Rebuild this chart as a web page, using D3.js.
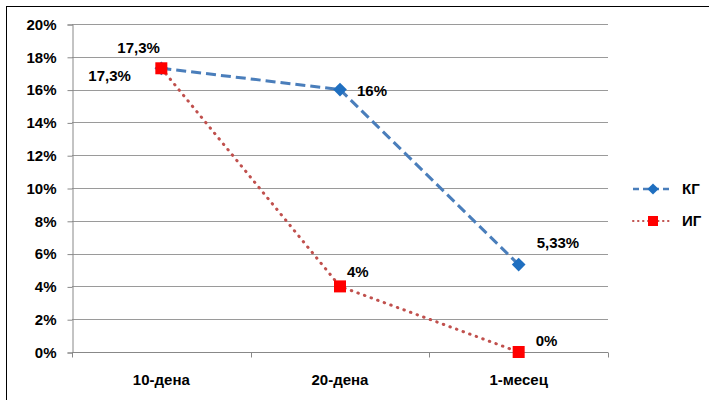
<!DOCTYPE html>
<html><head><meta charset="utf-8">
<script src="https://cdn.jsdelivr.net/npm/d3@7"></script>
<style>
body{margin:0;background:#fff;}
text{font-family:"Liberation Sans",Arial,sans-serif;font-weight:bold;font-size:15px;fill:#000;}
</style></head><body>
<svg id="c" width="709" height="400"></svg>
<script>
const categories = ["10-дена", "20-дена", "1-месец"];
const kgValues = [17.3, 16, 5.33];
const igValues = [17.3, 4, 0];
const kgLabels = ["17,3%", "16%", "5,33%"];
const igLabels = ["17,3%", "4%", "0%"];
const yTicks = [0, 2, 4, 6, 8, 10, 12, 14, 16, 18, 20];
const seriesNames = ["КГ", "ИГ"];

const svg = d3.select("#c");
const W = 709, H = 400;
const plot = {left: 72, right: 608, top: 24, bottom: 352};

// chart frame (runs past the right and bottom edges)
svg.append("rect").attr("x", 6.5).attr("y", 6.5).attr("width", W + 10).attr("height", H + 10)
  .attr("fill", "#fff").attr("stroke", "#000").attr("stroke-width", 1);

const x = d3.scaleBand().domain(categories).range([plot.left, plot.right]);
const y = d3.scaleLinear().domain([0, 20]).range([plot.bottom, plot.top]);

// horizontal gridlines
svg.append("g").selectAll("line").data(yTicks.filter(d => d > 0)).join("line")
  .attr("x1", plot.left).attr("x2", plot.right)
  .attr("y1", d => Math.round(y(d)) + 0.5).attr("y2", d => Math.round(y(d)) + 0.5)
  .attr("stroke", "#9a9a9a").attr("stroke-width", 1);

// y axis
const yAxis = svg.append("g").attr("transform", `translate(${plot.left + 0.5},0.5)`)
  .call(d3.axisLeft(y).tickValues(yTicks).tickFormat(d => d + "%").tickSizeOuter(0).tickSize(5).tickPadding(11));
yAxis.select(".domain").attr("stroke", "#888");
yAxis.selectAll(".tick line").attr("stroke", "#888");
yAxis.selectAll("text").style("font-size", "15px").style("font-family", null);

// x axis with ticks on category boundaries
const xAxisG = svg.append("g").attr("transform", `translate(0,${plot.bottom + 0.5})`);
xAxisG.append("line").attr("x1", plot.left).attr("x2", plot.right).attr("stroke", "#888");
const bounds = categories.map(c => x(c)).concat([plot.right]);
xAxisG.selectAll(".tk").data(bounds).join("line").attr("class", "tk")
  .attr("x1", d => Math.round(d) + 0.5).attr("x2", d => Math.round(d) + 0.5)
  .attr("y1", 0).attr("y2", 5).attr("stroke", "#888");
xAxisG.selectAll("text").data(categories).join("text")
  .attr("x", d => x(d) + x.bandwidth() / 2).attr("y", 32)
  .attr("text-anchor", "middle").text(d => d);

const cx = c => x(c) + x.bandwidth() / 2;
const line = d3.line().x(d => cx(d.c)).y(d => y(d.v));

const kg = categories.map((c, i) => ({c, v: kgValues[i], l: kgLabels[i]}));
const ig = categories.map((c, i) => ({c, v: igValues[i], l: igLabels[i]}));

const blue = "#4a7ebb", blueMark = "#1f6fc0", red = "#c0504d", redMark = "#ff0000";

// КГ series: dashed line with diamonds
svg.append("path").datum(kg).attr("d", line).attr("fill", "none")
  .attr("stroke", blue).attr("stroke-width", 3).attr("stroke-dasharray", "10,5");
// ИГ series: dotted line with squares
svg.append("path").datum(ig).attr("d", line).attr("fill", "none")
  .attr("stroke", red).attr("stroke-width", 3).attr("stroke-linecap", "round").attr("stroke-dasharray", "0.5,6.5");

const diamond = d3.symbol().type(d3.symbolDiamond2).size(120);
svg.append("g").selectAll("path").data(kg).join("path")
  .attr("transform", d => `translate(${cx(d.c)},${y(d.v)})`).attr("d", diamond).attr("fill", blueMark);
svg.append("g").selectAll("rect").data(ig).join("rect")
  .attr("x", d => cx(d.c) - 6).attr("y", d => y(d.v) - 6).attr("width", 12).attr("height", 12).attr("fill", redMark);

// data labels
const kgOff = [[-44, -15], [17, 6], [18, -17]];
const igOff = [[-73, 13], [7, -9], [17, -6]];
svg.append("g").selectAll("text").data(kg).join("text")
  .attr("x", (d, i) => cx(d.c) + kgOff[i][0]).attr("y", (d, i) => y(d.v) + kgOff[i][1]).text(d => d.l);
svg.append("g").selectAll("text").data(ig).join("text")
  .attr("x", (d, i) => cx(d.c) + igOff[i][0]).attr("y", (d, i) => y(d.v) + igOff[i][1]).text(d => d.l);

// legend
const lg = svg.append("g");
const lx = 633, ly = [189, 221];
lg.append("line").attr("x1", lx).attr("x2", lx + 40).attr("y1", ly[0]).attr("y2", ly[0])
  .attr("stroke", blue).attr("stroke-width", 2.5).attr("stroke-dasharray", "6,4");
lg.append("path").attr("transform", `translate(${lx + 20},${ly[0]})`)
  .attr("d", d3.symbol().type(d3.symbolDiamond2).size(80)).attr("fill", blueMark);
lg.append("line").attr("x1", lx).attr("x2", lx + 40).attr("y1", ly[1]).attr("y2", ly[1])
  .attr("stroke", red).attr("stroke-width", 2).attr("stroke-linecap", "round").attr("stroke-dasharray", "0.5,4.5");
lg.append("rect").attr("x", lx + 15).attr("y", ly[1] - 5).attr("width", 10).attr("height", 10).attr("fill", redMark);
lg.selectAll("text").data(seriesNames).join("text")
  .attr("x", lx + 49).attr("y", (d, i) => ly[i] + 5).text(d => d);
</script></body></html>
